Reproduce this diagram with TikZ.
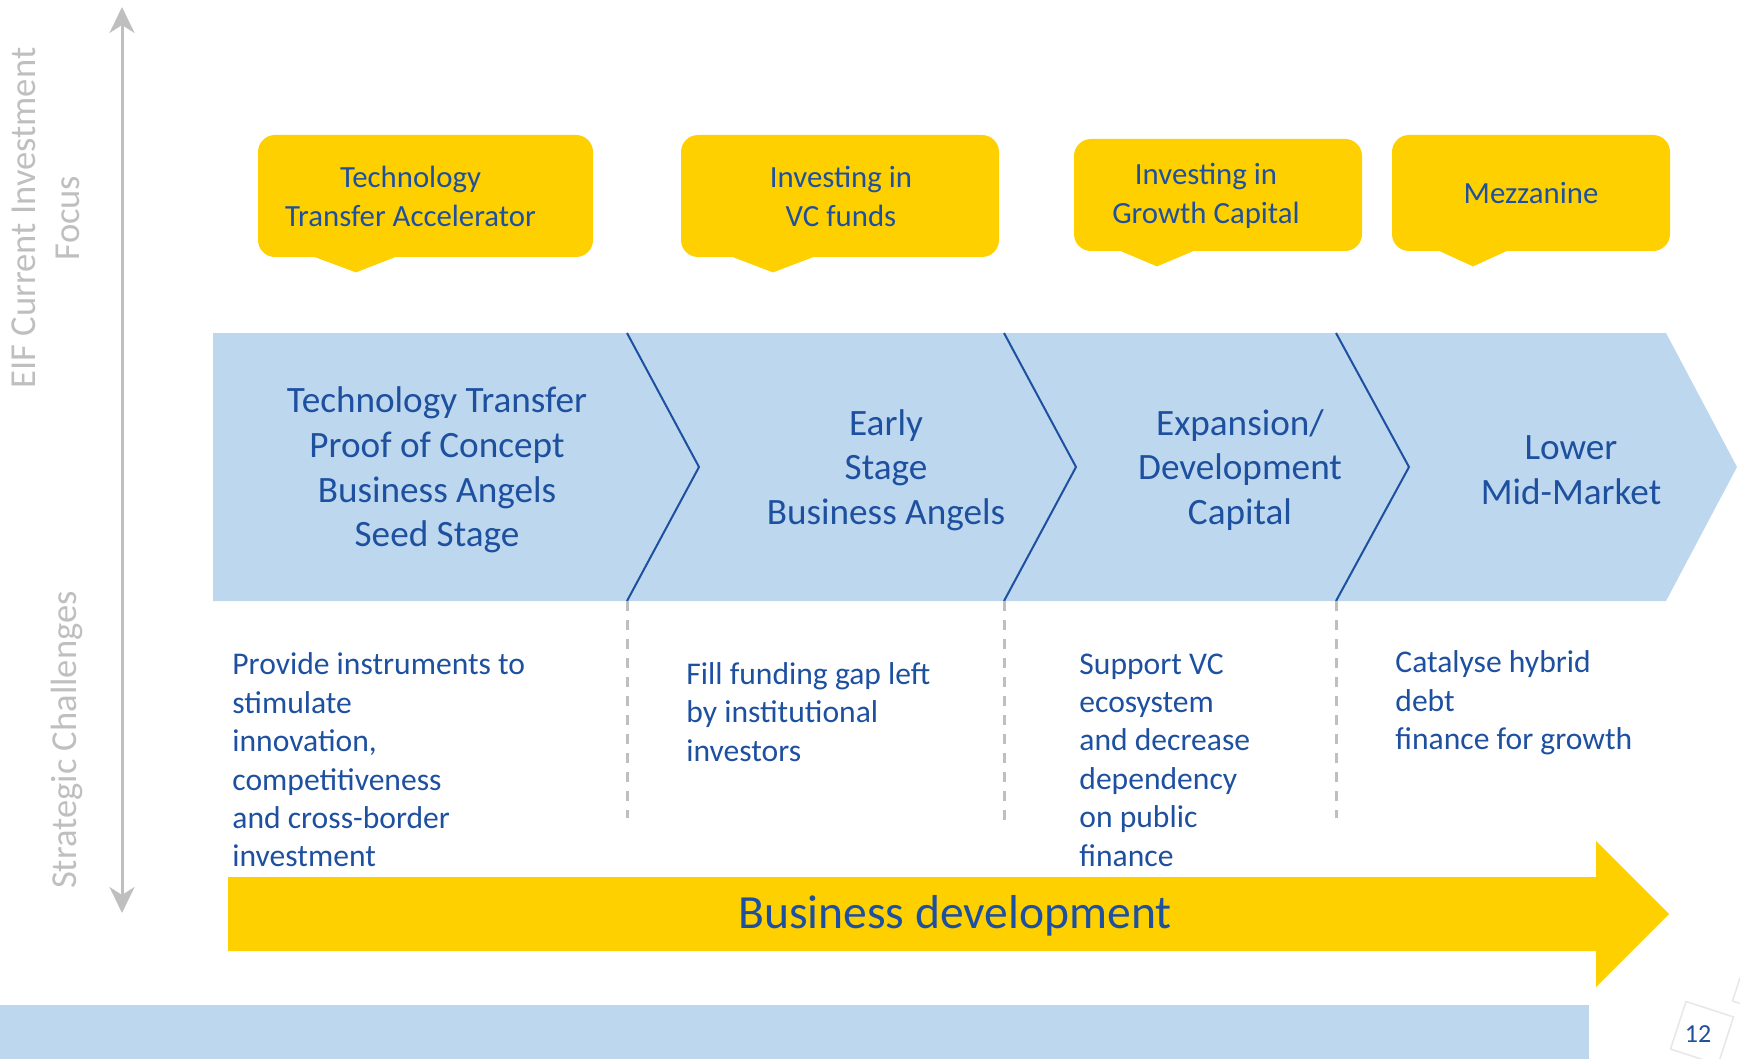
\documentclass[tikz,border=0pt]{standalone}
\usepackage{fontspec}
\setmainfont{Carlito}
\usetikzlibrary{arrows.meta, calc}
\definecolor{cyellow}{HTML}{FFD000}
\definecolor{clight}{HTML}{BDD7EE}
\definecolor{cnavy}{HTML}{1E50A0}
\definecolor{cgrey}{HTML}{BFBFBF}
\tikzset{
  bubble/.style={fill=cyellow, rounded corners=8.5pt, inner sep=0pt},
  bubbletext/.style={align=center, text=cnavy, inner sep=0pt, font=\fontsize{15.4}{19.5}\selectfont},
  stage/.style={align=center, text=cnavy, inner sep=0pt, font=\fontsize{18.6}{22.3}\selectfont},
  goal/.style={align=left, anchor=west, text=cnavy, inner sep=0pt, font=\fontsize{15.8}{19.2}\selectfont},
  side/.style={rotate=90, align=center, text=cgrey, inner sep=0pt, font=\fontsize{18.3}{22}\selectfont},
  divider/.style={draw=cnavy, line width=1pt},
  gap/.style={draw=cgrey, line width=1.5pt, dash pattern=on 5pt off 4.5pt},
  axis/.style={draw=cgrey, line width=1.5pt, {Stealth[length=13pt, width=12.5pt, inset=4pt]}-{Stealth[length=13pt, width=12.5pt, inset=4pt]}},
}

\begin{document}
\begin{tikzpicture}[x=0.5pt, y=-0.5pt]
  \useasboundingbox (0,0) rectangle (1740,1059);
  % side axis
  \coordinate (up) at (122,7);
  \coordinate (down) at (122,913);
  \draw[axis] (down) -- (up);
  \node[side] (focus) at (46,218) {EIF Current Investment\\Focus};
  \node[side] (challenge) at (67,740) {Strategic Challenges};
  % investment focus bubbles
  \node[bubble, minimum width=167.5pt, minimum height=61pt] (b1) at (425.5,196) {};
  \fill[cyellow] ($(b1.south)+(-112.5,-1)$) -- ++(84,0) -- ++(-41,16) -- cycle;
  \node[bubbletext] (t1) at ($(b1)+(-15,0)$) {Technology\\Transfer Accelerator};
  \node[bubble, minimum width=159pt, minimum height=61pt] (b2) at (840,196) {};
  \fill[cyellow] ($(b2.south)+(-109,-1)$) -- ++(84,0) -- ++(-42,16) -- cycle;
  \node[bubbletext] (t2) at ($(b2)+(1,0)$) {Investing in\\VC funds};
  \node[bubble, minimum width=144pt, minimum height=56pt] (b3) at (1218,195) {};
  \fill[cyellow] ($(b3.south)+(-99,-1)$) -- ++(76,0) -- ++(-38,16) -- cycle;
  \node[bubbletext] (t3) at ($(b3)+(-12,1)$) {Investing in\\Growth Capital};
  \node[bubble, minimum width=139pt, minimum height=58pt] (b4) at (1531,193) {};
  \fill[cyellow] ($(b4.south)+(-93,-1)$) -- ++(70,0) -- ++(-35,16) -- cycle;
  \node[bubbletext] (t4) at ($(b4)+(0,0)$) {Mezzanine};
  % stages band
  \fill[clight] (213,333) -- (1666,333) -- (1737,467) -- (1666,601) -- (213,601) -- cycle;
  \draw[divider] (627,333) -- (699,467) -- (627,601);
  \draw[divider] (1004,333) -- (1076,467) -- (1004,601);
  \draw[divider] (1336,333) -- (1409,467) -- (1336,601);
  \node[stage] (s1) at (437,470) {Technology Transfer\\Proof of Concept\\Business Angels\\Seed Stage};
  \node[stage] (s2) at (886,470) {Early\\Stage\\Business Angels};
  \node[stage] (s3) at (1240,470) {Expansion/\\Development\\Capital};
  \node[stage] (s4) at (1571,470) {Lower\\Mid-Market};
  % strategic challenges
  \draw[gap] (627,601) -- (627,818);
  \draw[gap] (1004,601) -- (1004,823);
  \draw[gap] (1336,601) -- (1336,818);
  \node[goal] (g1) at (232,760) {Provide instruments to\\stimulate\\innovation,\\competitiveness\\and cross-border\\investment};
  \node[goal] (g2) at (686,712) {Fill funding gap left\\by institutional\\investors};
  \node[goal] (g3) at (1079,760) {Support VC\\ecosystem\\and decrease\\dependency\\on public\\finance};
  \node[goal] (g4) at (1395,703) {Catalyse hybrid\\debt\\finance for growth};
  % business development arrow
  \fill[cyellow] (228,877) -- (1596,877) -- (1596,841) -- (1669,914) -- (1596,987) -- (1596,951) -- (228,951) -- cycle;
  \node[text=cnavy, font=\fontsize{23.8}{28}\selectfont] (dev) at (955,916) {Business development};
  % footer
  \fill[clight] (0,1005) rectangle (1589,1059);
  \node[draw=gray!18, line width=0.8pt, minimum size=25pt, rotate=-18] (tile) at (1702,1033) {};
  \node[draw=gray!18, line width=0.8pt, minimum size=25pt, rotate=-18] (tile2) at (1764,985) {};
  \node[text=cnavy, font=\fontsize{13}{15}\selectfont] (page) at (1698,1034) {12};
\end{tikzpicture}
\end{document}
